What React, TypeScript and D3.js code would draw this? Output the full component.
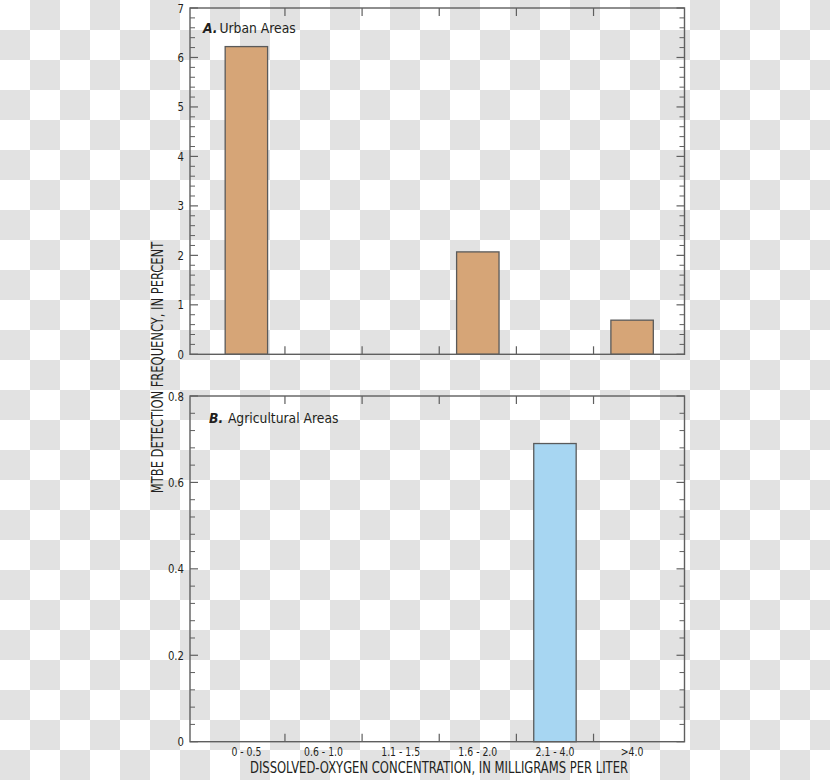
import React from "react";
import * as d3 from "d3";

const categories = ["0 - 0.5", "0.6 - 1.0", "1.1 - 1.5", "1.6 - 2.0", "2.1 - 4.0", ">4.0"];
const urbanValues = [6.22, 0, 0, 2.07, 0, 0.69];
const agriculturalValues = [0, 0, 0, 0, 0.69, 0];
const urbanTicks = [0, 1, 2, 3, 4, 5, 6, 7];
const agriTicks = [0, 0.2, 0.4, 0.6, 0.8];

const W = 830;
const H = 780;
const LEFT = 190;
const RIGHT = 684.5;
const FONT = "'Liberation Sans Narrow', 'DejaVu Sans Condensed', 'Arial Narrow', sans-serif";
const AXIS = "#5f5f5f";
const TEXT = "#231f20";

type CTextProps = {
  x: number;
  y: number;
  sx: number;
  size: number;
  anchor?: string;
  dy?: string;
  rotate?: number;
  children: React.ReactNode;
};

function CText({ x, y, sx, size, anchor = "start", dy, rotate = 0, children }: CTextProps) {
  return (
    <text
      transform={`translate(${x},${y}) rotate(${rotate}) scale(${sx},1)`}
      textAnchor={anchor}
      dy={dy}
      fontSize={size}
      fill={TEXT}
      fontFamily={FONT}
    >
      {children}
    </text>
  );
}

type PanelProps = {
  top: number;
  bottom: number;
  values: number[];
  max: number;
  ticks: number[];
  minorStep: number;
  fill: string;
  letter: string;
  title: string;
  titleX: number;
  titleY: number;
  gap: number;
  showCats: boolean;
};

function Panel(p: PanelProps) {
  const x = d3
    .scaleBand<string>()
    .domain(categories)
    .range([LEFT, RIGHT])
    .paddingInner(0.45)
    .paddingOuter(0.43)
    .align(0.53);
  const y = d3.scaleLinear().domain([0, p.max]).range([p.bottom, p.top]);
  const minor = d3.range(0, p.max + 1e-9, p.minorStep).filter(
    (v) => !p.ticks.some((t) => Math.abs(t - v) < 1e-9)
  );
  const bw = x.bandwidth();
  const step = x.step();
  const catTicks = categories.slice(0, -1).map((c) => (x(c) as number) + bw / 2 + step / 2);

  return (
    <g>
      {categories.map((c, i) =>
        p.values[i] > 0 ? (
          <rect
            key={c}
            x={x(c)}
            y={y(p.values[i])}
            width={bw}
            height={y(0) - y(p.values[i])}
            fill={p.fill}
            stroke="#5a5a5a"
            strokeWidth={1.3}
          />
        ) : null
      )}
      <rect x={LEFT} y={p.top} width={RIGHT - LEFT} height={p.bottom - p.top} fill="none" stroke={AXIS} strokeWidth={1.4} />
      {p.ticks.map((t) => (
        <g key={"t" + t}>
          <line x1={LEFT} x2={LEFT + 8} y1={y(t)} y2={y(t)} stroke={AXIS} strokeWidth={1.2} />
          <line x1={RIGHT} x2={RIGHT - 8} y1={y(t)} y2={y(t)} stroke={AXIS} strokeWidth={1.2} />
          <CText x={184} y={y(t)} sx={0.9} size={12.5} anchor="end" dy="0.36em">
            {String(t)}
          </CText>
        </g>
      ))}
      {minor.map((t) => (
        <g key={"m" + t}>
          <line x1={LEFT} x2={LEFT + 5} y1={y(t)} y2={y(t)} stroke={AXIS} strokeWidth={1} />
          <line x1={RIGHT} x2={RIGHT - 5} y1={y(t)} y2={y(t)} stroke={AXIS} strokeWidth={1} />
        </g>
      ))}
      {catTicks.map((cx, i) => (
        <g key={"c" + i}>
          <line x1={cx} x2={cx} y1={p.top} y2={p.top + 8} stroke={AXIS} strokeWidth={1.2} />
          <line x1={cx} x2={cx} y1={p.bottom} y2={p.bottom - 8} stroke={AXIS} strokeWidth={1.2} />
        </g>
      ))}
      {p.showCats &&
        categories.map((c) => (
          <CText key={"l" + c} x={(x(c) as number) + bw / 2} y={p.bottom + 14.5} sx={0.9} size={11.5} anchor="middle">
            {c}
          </CText>
        ))}
      <CText x={p.titleX} y={p.titleY} sx={0.95} size={14.5}>
        <tspan fontWeight="bold" fontStyle="italic">{p.letter}</tspan>
        <tspan dx={p.gap}>{p.title}</tspan>
      </CText>
    </g>
  );
}

export default function App() {
  return (
    <svg width={W} height={H} style={{ position: "absolute", left: 0, top: 0 }}>
      <defs>
        <pattern id="checker" width={60} height={60} patternUnits="userSpaceOnUse">
          <rect width={60} height={60} fill="#ffffff" />
          <rect x={30} y={0} width={30} height={30} fill="#e2e2e2" />
          <rect x={0} y={30} width={30} height={30} fill="#e2e2e2" />
        </pattern>
      </defs>
      <rect width={W} height={H} fill="url(#checker)" />
      <Panel
        top={8}
        bottom={354.3}
        values={urbanValues}
        max={7}
        ticks={urbanTicks}
        minorStep={0.2}
        fill="#d6a577"
        letter="A."
        title="Urban Areas"
        titleX={203}
        titleY={33.3}
        gap={2}
        showCats={false}
      />
      <Panel
        top={396}
        bottom={741.7}
        values={agriculturalValues}
        max={0.8}
        ticks={agriTicks}
        minorStep={0.04}
        fill="#a7d6f2"
        letter="B."
        title="Agricultural Areas"
        titleX={209}
        titleY={423.3}
        gap={5}
        showCats={true}
      />
      <CText x={163} y={367.5} sx={0.8} size={16} anchor="middle" rotate={-90}>
        MTBE DETECTION FREQUENCY, IN PERCENT
      </CText>
      <CText x={439} y={773} sx={0.805} size={16} anchor="middle">
        DISSOLVED-OXYGEN CONCENTRATION, IN MILLIGRAMS PER LITER
      </CText>
    </svg>
  );
}
